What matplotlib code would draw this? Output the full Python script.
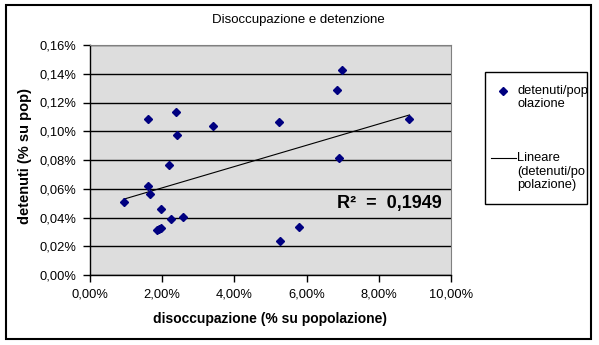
import numpy as np
import matplotlib
matplotlib.use("Agg")
import matplotlib.pyplot as plt
from matplotlib.patches import Rectangle
from matplotlib.lines import Line2D
from matplotlib.ticker import FuncFormatter, MultipleLocator

plt.rcParams['font.family'] = ['Liberation Sans', 'DejaVu Sans']

### Data (values in %)
disoccupazione = [0.93, 1.62, 1.62, 1.67, 1.85, 1.90, 1.97, 1.96, 2.18, 2.23, 2.37,
                  2.40, 2.59, 3.40, 5.24, 5.25, 5.78, 6.83, 6.98, 6.91, 8.85]
detenuti = [0.0506, 0.1083, 0.0619, 0.0566, 0.0311, 0.0320, 0.0329, 0.0457, 0.0766, 0.0388, 0.1132,
            0.0977, 0.0402, 0.1035, 0.1065, 0.0235, 0.0336, 0.1290, 0.1425, 0.0816, 0.1083]
r2_label = "R\u00b2  =  0,1949"

W, H = 599, 345
def fx(px):
    return px / W
def fy(py):
    return 1 - py / H

fig = plt.figure(figsize=(W / 100, H / 100), dpi=100)
ax = fig.add_axes([fx(90), fy(275), (451 - 90) / W, (275 - 45) / H])
ax.set_facecolor('#DDDDDD')

x = np.array(disoccupazione)
y = np.array(detenuti)

# gridlines
ax.yaxis.grid(True, color='black', linewidth=1.0)
ax.set_axisbelow(True)

ax.plot(x, y, linestyle='None', marker='D', markersize=4.2, color='#000080', zorder=3)

# linear trendline
m, q = np.polyfit(x, y, 1)
xt = np.array([x.min(), x.max()])
ax.plot(xt, m * xt + q, color='black', linewidth=0.8, zorder=2)

ax.set_xlim(0, 10)
ax.set_ylim(0, 0.16)
ax.xaxis.set_major_locator(MultipleLocator(2))
ax.yaxis.set_major_locator(MultipleLocator(0.02))
ax.xaxis.set_major_formatter(FuncFormatter(lambda v, p: f"{v:.2f}%".replace('.', ',')))
ax.yaxis.set_major_formatter(FuncFormatter(lambda v, p: f"{v:.2f}%".replace('.', ',')))
ax.tick_params(direction='out', length=5, width=1, color='black', labelsize=9.3, pad=5)

for s in ['top', 'right']:
    ax.spines[s].set_color('#808080')
for s in ['left', 'bottom']:
    ax.spines[s].set_color('black')
    ax.spines[s].set_linewidth(1.0)

ax.text(0.975, 0.31, r2_label, transform=ax.transAxes, ha='right', va='center',
        fontsize=13, fontweight='bold')

fig.text(fx(270), fy(319), 'disoccupazione (% su popolazione)', ha='center', va='center',
         fontsize=10, fontweight='bold')
fig.text(fx(25), fy(156), 'detenuti (% su pop)', ha='center', va='center', rotation=90,
         fontsize=10.5, fontweight='bold')
fig.text(fx(298), fy(20), 'Disoccupazione e detenzione', ha='center', va='center', fontsize=9.5)

# outer frame
fig.patches.append(Rectangle((fx(6), fy(339)), (591 - 6) / W, (339 - 5) / H,
                             transform=fig.transFigure, fill=False, edgecolor='black', linewidth=1.5))

# legend
fig.patches.append(Rectangle((fx(485), fy(204)), (587 - 485) / W, (204 - 72) / H,
                             transform=fig.transFigure, facecolor='white', edgecolor='black', linewidth=1.0))
fig.lines.append(Line2D([fx(503)], [fy(91)], transform=fig.transFigure, marker='D', markersize=4.2,
                        color='#000080', linestyle='None'))
fig.lines.append(Line2D([fx(491), fx(516)], [fy(158), fy(158)], transform=fig.transFigure,
                        color='black', linewidth=0.8))
for txt, py in [('detenuti/pop', 91), ('olazione', 104), ('Lineare', 158),
                ('(detenuti/po', 172), ('polazione)', 185)]:
    fig.text(fx(517), fy(py), txt, ha='left', va='center', fontsize=9.3)

fig.savefig('out.png', dpi=100)
